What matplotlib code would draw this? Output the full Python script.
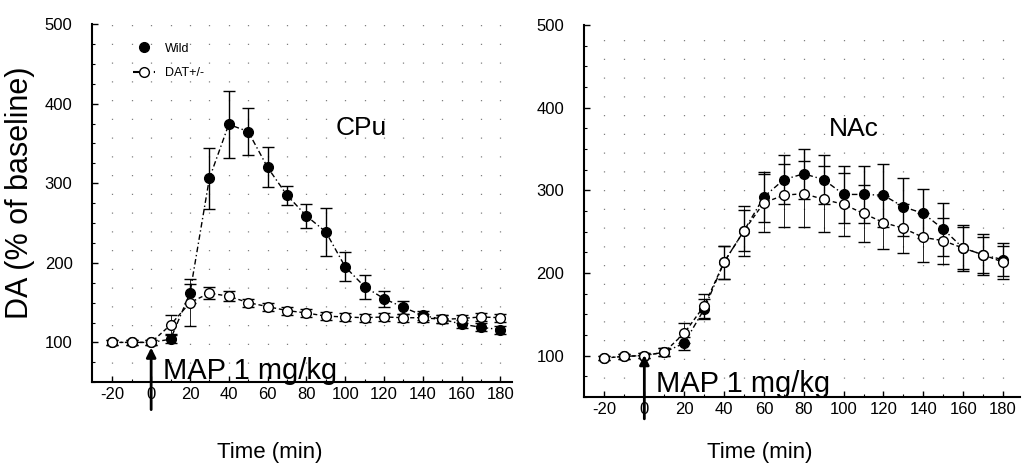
import matplotlib.pyplot as plt
from matplotlib.lines import Line2D

plt.rcParams['font.family'] = ['Liberation Sans', 'DejaVu Sans']
plt.rcParams['axes.unicode_minus'] = False

# data
time = [-20, -10, 0, 10, 20, 30, 40, 50, 60, 70, 80, 90, 100, 110, 120, 130, 140, 150, 160, 170, 180]

cpu_wild = [100, 100, 100, 104, 162, 306, 374, 365, 320, 285, 259, 239, 195, 170, 155, 144, 134, 129, 123, 119, 116]
cpu_wild_err = [3, 3, 3, 5, 12, 38, 42, 30, 25, 12, 15, 30, 18, 15, 10, 8, 6, 5, 5, 5, 5]
cpu_het = [100, 100, 100, 122, 150, 162, 158, 150, 145, 140, 137, 133, 132, 131, 132, 131, 131, 129, 130, 132, 131]
cpu_het_err = [3, 3, 3, 12, 30, 8, 6, 5, 5, 5, 5, 5, 5, 5, 5, 5, 5, 5, 5, 5, 5]

nac_wild = [97, 99, 100, 104, 115, 156, 213, 251, 292, 313, 320, 313, 295, 295, 294, 280, 272, 253, 230, 222, 216]
nac_wild_err = [3, 3, 3, 5, 8, 12, 20, 25, 30, 30, 30, 30, 35, 35, 38, 35, 30, 32, 28, 25, 20]
nac_het = [97, 99, 100, 104, 127, 160, 213, 251, 285, 294, 296, 289, 283, 272, 261, 254, 243, 239, 230, 222, 213]
nac_het_err = [3, 3, 3, 5, 12, 15, 20, 30, 35, 38, 40, 40, 38, 35, 32, 30, 30, 28, 25, 22, 20]

xticks = [-20, 0, 20, 40, 60, 80, 100, 120, 140, 160, 180]
yticks = [100, 200, 300, 400, 500]

fig = plt.figure(figsize=(10.22, 4.73), dpi=100)
ax1 = fig.add_axes([0.090, 0.192, 0.411, 0.757])
ax2 = fig.add_axes([0.571, 0.161, 0.427, 0.786])


def draw_panel(ax, wild, wild_err, het, het_err, region, region_xy, xlim, arrow_tail, arrow_head, text_y):
    ax.errorbar(time, wild, yerr=wild_err, color='black', linestyle=(0, (4, 2, 1, 2)),
                linewidth=1.0, marker='o', markersize=7, markerfacecolor='black',
                capsize=4, elinewidth=1.0, zorder=3, label='Wild')
    ax.errorbar(time, het, yerr=het_err, color='black', linestyle=(0, (3, 2)),
                linewidth=1.0, marker='o', markersize=7, markerfacecolor='white',
                capsize=4, elinewidth=0.6, zorder=4, label='DAT+/-')

    ax.set_xlim(*xlim)
    ax.set_ylim(50, 500)
    ax.set_xticks(xticks)
    ax.set_xticks(range(-20, 181, 10), minor=True)
    ax.set_yticks(yticks)
    ax.set_yticks(range(50, 501, 25), minor=True)
    ax.tick_params(axis='both', which='major', direction='in', length=4, labelsize=12, width=1)
    ax.tick_params(axis='both', which='minor', direction='in', length=2, width=0.8)
    ax.tick_params(axis='y', pad=14)
    for side in ['top', 'right']:
        ax.spines[side].set_visible(False)
    for side in ['left', 'bottom']:
        ax.spines[side].set_linewidth(1.5)

    # scanned dotted background
    ax.grid(axis='x', which='both', linestyle=(0, (1, 14)), color='black', linewidth=0.9, alpha=0.5)

    ax.text(region_xy[0], region_xy[1], region, transform=ax.transAxes, fontsize=19,
            ha='center', va='center')

    ax.annotate('', xy=(0, arrow_head), xytext=(0, arrow_tail),
                arrowprops=dict(arrowstyle='-|>', color='black', lw=2, mutation_scale=14),
                annotation_clip=False, zorder=6)
    ax.text(6, text_y, 'MAP 1 mg/kg', fontsize=21, ha='left', va='center', zorder=5)


draw_panel(ax1, cpu_wild, cpu_wild_err, cpu_het, cpu_het_err, 'CPu', (0.64, 0.71),
           (-30.5, 186), 12, 97, 64)
draw_panel(ax2, nac_wild, nac_wild_err, nac_het, nac_het_err, 'NAc', (0.62, 0.72),
           (-30.5, 188.5), 20, 104, 65)

fig.text(270 / 1022, 1 - 452 / 473, 'Time (min)', fontsize=16, ha='center', va='center')
fig.text(760 / 1022, 1 - 452 / 473, 'Time (min)', fontsize=16, ha='center', va='center')

ax1.set_ylabel('DA (% of baseline)', fontsize=22)
ax1.yaxis.set_label_coords(-0.135, 0.53)

handles = [
    Line2D([], [], color='black', linestyle='none', marker='o', markersize=7, markerfacecolor='black'),
    Line2D([], [], color='black', linestyle=(0, (3, 2)), marker='o', markersize=7, markerfacecolor='white'),
]
ax1.legend(handles, ['Wild', 'DAT+/-'], loc='upper left', bbox_to_anchor=(0.07, 0.98),
           frameon=False, fontsize=9, handlelength=1.8, labelspacing=1.0)

plt.savefig('out.png', dpi=100)
